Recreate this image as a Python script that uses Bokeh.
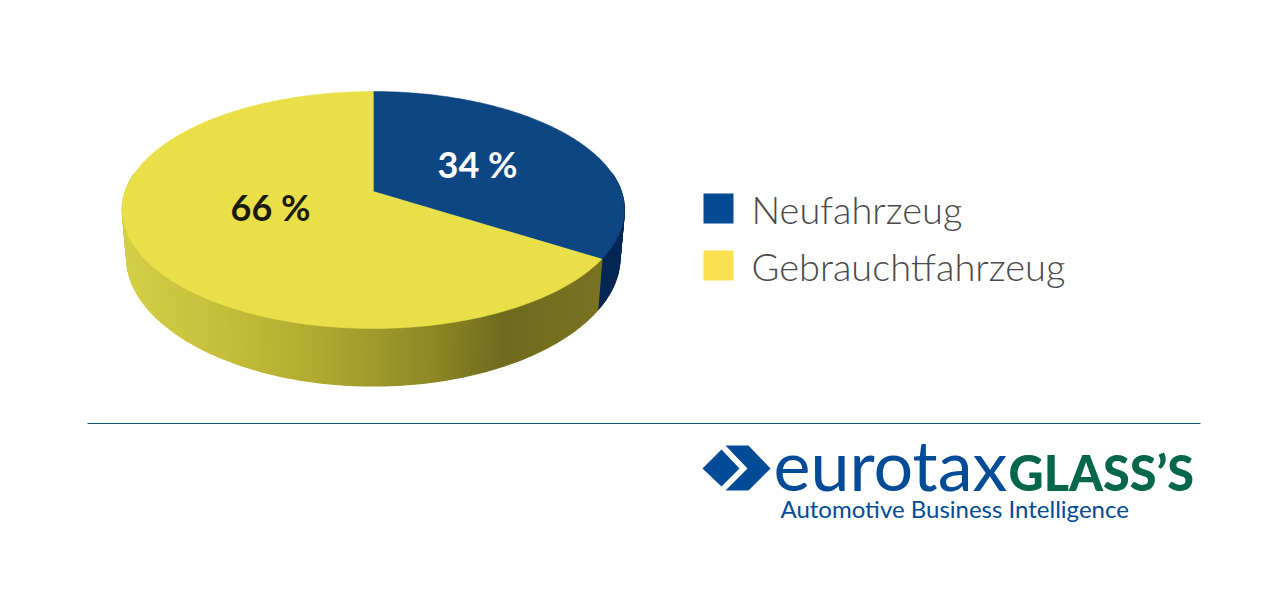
import math
from bokeh.plotting import figure
from bokeh.models import Range1d
from bokeh.core.properties import value
from bokeh.embed import file_html
from bokeh.resources import INLINE

categories = ["Neufahrzeug", "Gebrauchtfahrzeug"]
shares = [34, 66]
legend_colors = ["#024b93", "#fae04e"]
top_colors = ["#0d4682", "#e9e049"]
label_colors = ["#ffffff", "#1b1b0c"]

# pie geometry (pixels of the page): a tilted disc in perspective
CX, CY, R = 372.8, 191.0, 248.0
TOP_Y, FRONT_Y = 91.0, 328.0
C = 37 / 237
A = TOP_Y * C + TOP_Y - CY
DEPTH_FRONT, DEPTH_SIDE, SHRINK = 57.5, 48.5, 0.982


def proj(theta):
    u, v = math.sin(theta), math.cos(theta)
    w = 1 + C * v
    return CX + R * u / w, (A * v + CY) / w


def lower(theta):
    x, y = proj(theta)
    d = DEPTH_FRONT + (DEPTH_SIDE - DEPTH_FRONT) * math.sin(theta) ** 2
    return CX + (x - CX) * SHRINK, y + d


def mix(stops, x):
    for (x0, c0), (x1, c1) in zip(stops, stops[1:]):
        if x <= x1:
            t = max(0.0, (x - x0) / (x1 - x0))
            return "#%02x%02x%02x" % tuple(round(a + (b - a) * t) for a, b in zip(c0, c1))
    return "#%02x%02x%02x" % stops[-1][1]


yellow_wall = [(125, (212, 207, 70)), (220, (197, 191, 58)), (320, (176, 170, 48)),
               (430, (144, 137, 37)), (505, (112, 106, 30)), (600, (122, 115, 33))]
blue_wall = [(600, (6, 38, 84)), (630, (6, 38, 84))]

p = figure(width=1268, height=573, output_backend="svg", toolbar_location=None,
           x_range=Range1d(0, 1268), y_range=Range1d(573, 0), min_border=0,
           outline_line_color=None, background_fill_color="#ffffff", border_fill_color="#ffffff")
p.axis.visible = False
p.grid.visible = False

total = sum(shares)
angles = [0.0]
for s in shares:
    angles.append(angles[-1] + 2 * math.pi * s / total)

# side wall, split into thin strips following the lit gradient
wx, wy, wc = [], [], []
for i, stops in enumerate([blue_wall, yellow_wall]):
    a0, a1 = angles[i], angles[i + 1]
    a0 = max(a0, math.pi / 2 - 0.16)
    a1 = min(a1, 3 * math.pi / 2 + 0.16)
    n = max(2, int((a1 - a0) / 0.02))
    for k in range(n):
        t0 = a0 + (a1 - a0) * k / n
        t1 = a0 + (a1 - a0) * (k + 1) / n
        x0, y0 = proj(t0)
        x1, y1 = proj(t1)
        x2, y2 = lower(t1)
        x3, y3 = lower(t0)
        wx.append([x0, x1, x2, x3])
        wy.append([y0, y1, y2, y3])
        wc.append(mix(stops, (x0 + x3) / 2))
p.patches(wx, wy, fill_color=wc, line_color=wc, line_width=1.2)

# top face
for i in range(len(shares)):
    n = 200
    xs, ys = [CX], [CY]
    for k in range(n + 1):
        x, y = proj(angles[i] + (angles[i + 1] - angles[i]) * k / n)
        xs.append(x)
        ys.append(y)
    p.patch(xs, ys, fill_color=top_colors[i], line_color=top_colors[i], line_width=0.5)

# value labels
p.text([477, 270], [163, 206], text=[f"{s} %" for s in shares], text_color=label_colors,
       text_font=value("Lato"), text_font_style="bold", text_font_size="36px",
       text_align="center", text_baseline="middle")

# legend
p.quad(left=[703, 703], right=[733, 733], top=[193, 250], bottom=[223, 280],
       fill_color=legend_colors, line_color=None)
p.text([751, 751], [208.5, 265.5], text=categories, text_color="#4a4a4a",
       text_font=value("Lato Light"), text_font_size="38px",
       text_align="left", text_baseline="middle")

# rule
p.line([87, 1200], [423, 423], line_color="#0f5585", line_width=1)

# logo
BLUE, GREEN = "#024b97", "#04674a"
p.patch([702, 721, 739, 721], [468, 449, 468, 486], fill_color=BLUE, line_color=None)
p.patch([725, 748, 770, 748, 725, 747], [445, 445, 468, 490, 490, 468], fill_color=BLUE, line_color=None)
p.text([773], [463], text=["eurotax"], text_color=BLUE, text_font=value("Lato"),
       text_font_size="70px", text_align="left", text_baseline="alphabetic")
p.text([1008], [471], text=["GLASS’S"], text_color=GREEN, text_font=value("Lato Black"),
       text_font_size="48.5px", text_align="left", text_baseline="alphabetic")
p.text([780], [507.5], text=["Automotive Business Intelligence"], text_color=BLUE, text_font=value("Lato"),
       text_font_size="24px", text_align="left", text_baseline="alphabetic")

open("out.html", "w").write(file_html(p, INLINE))
